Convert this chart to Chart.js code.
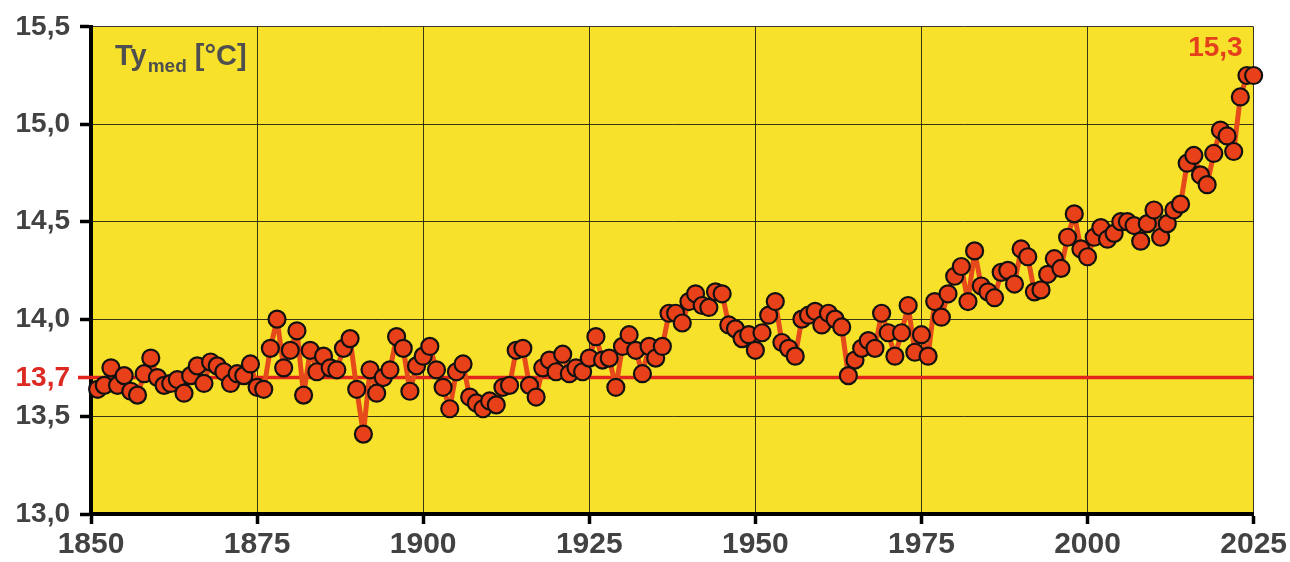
<!DOCTYPE html>
<html>
<head>
<meta charset="utf-8">
<script src="https://cdn.jsdelivr.net/npm/chart.js@4.4.1/dist/chart.umd.min.js"></script>
<style>
  html, body { margin: 0; padding: 0; background: #ffffff; }
  #wrap { width: 1290px; height: 562px; position: relative; }
  canvas { display: block; }
</style>
</head>
<body>
<div id="wrap"><canvas id="c" width="1290" height="562"></canvas></div>
<script>
// ---- Data (annual mean temperature, °C) ----
const firstYear = 1851;
const temps1851_1875 = [13.64, 13.66, 13.75, 13.66, 13.71, 13.63, 13.61, 13.72, 13.80, 13.70,
  13.66, 13.67, 13.69, 13.62, 13.71, 13.76, 13.67, 13.78, 13.76, 13.73, 13.67, 13.72, 13.71, 13.77, 13.65];
const temps1876_1900 = [13.64, 13.85, 14.00, 13.75, 13.84, 13.94, 13.61, 13.84, 13.73, 13.81,
  13.75, 13.74, 13.85, 13.90, 13.64, 13.41, 13.74, 13.62, 13.70, 13.74, 13.91, 13.85, 13.63, 13.76, 13.81];
const temps1901_1925 = [13.86, 13.74, 13.65, 13.54, 13.73, 13.77, 13.60, 13.57, 13.54, 13.58,
  13.56, 13.65, 13.66, 13.84, 13.85, 13.66, 13.60, 13.75, 13.79, 13.73, 13.82, 13.72, 13.75, 13.73, 13.80];
const temps1926_1950 = [13.91, 13.79, 13.80, 13.65, 13.86, 13.92, 13.84, 13.72, 13.86, 13.80,
  13.86, 14.03, 14.03, 13.98, 14.09, 14.13, 14.07, 14.06, 14.14, 14.13, 13.97, 13.95, 13.90, 13.92, 13.84];
const temps1951_1975 = [13.93, 14.02, 14.09, 13.88, 13.85, 13.81, 14.00, 14.02, 14.04, 13.97,
  14.03, 14.00, 13.96, 13.71, 13.79, 13.85, 13.89, 13.85, 14.03, 13.93, 13.81, 13.93, 14.07, 13.83, 13.92];
const temps1976_2000 = [13.81, 14.09, 14.01, 14.13, 14.22, 14.27, 14.09, 14.35, 14.17, 14.14,
  14.11, 14.24, 14.25, 14.18, 14.36, 14.32, 14.14, 14.15, 14.23, 14.31, 14.26, 14.42, 14.54, 14.36, 14.32];
const temps2001_2025 = [14.42, 14.47, 14.41, 14.44, 14.50, 14.50, 14.48, 14.40, 14.49, 14.56,
  14.42, 14.49, 14.56, 14.59, 14.80, 14.84, 14.74, 14.69, 14.85, 14.97, 14.94, 14.86, 15.14, 15.25, 15.25];

const referenceValue = 13.7;
const xTickValues = [1850, 1875, 1900, 1925, 1950, 1975, 2000, 2025];
const yTickValues = [13.0, 13.5, 14.0, 14.5, 15.0, 15.5];
const titleMain = "Ty";
const titleSub = "med";
const titleUnit = " [°C]";

const temps = [].concat(temps1851_1875, temps1876_1900, temps1901_1925, temps1926_1950,
  temps1951_1975, temps1976_2000, temps2001_2025);
const points = temps.map((v, i) => ({ x: firstYear + i, y: v }));

const comma = v => v.toFixed(1).replace('.', ',');
const FONT = "'Liberation Sans', Arial, sans-serif";

const bgPlugin = {
  id: 'bg',
  beforeDraw(chart) {
    const { ctx, chartArea: a } = chart;
    ctx.save();
    ctx.fillStyle = '#f7e12a';
    ctx.fillRect(a.left, a.top, a.right - a.left, a.bottom - a.top);
    ctx.restore();
  },
  beforeDatasetsDraw(chart) {
    const { ctx, chartArea: a, scales } = chart;
    const y = scales.y.getPixelForValue(referenceValue);
    ctx.save();
    ctx.strokeStyle = '#e3241d';
    ctx.lineWidth = 3.5;
    ctx.beginPath();
    ctx.moveTo(a.left - 13, y);
    ctx.lineTo(a.right, y);
    ctx.stroke();
    ctx.fillStyle = '#dc2a22';
    ctx.font = "bold 28px " + FONT;
    ctx.textAlign = 'right';
    ctx.textBaseline = 'middle';
    ctx.fillText(comma(referenceValue), a.left - 21, y + 1);
    ctx.restore();
  },
  afterDatasetsDraw(chart) {
    const { ctx, chartArea: a } = chart;
    ctx.save();
    ctx.fillStyle = '#4f4f4f';
    ctx.textBaseline = 'alphabetic';
    ctx.textAlign = 'left';
    let x = a.left + 24;
    ctx.font = "bold 29px " + FONT;
    ctx.fillText(titleMain, x, 65);
    x += ctx.measureText(titleMain).width + 1;
    ctx.font = "bold 19px " + FONT;
    ctx.fillText(titleSub, x, 72);
    x += ctx.measureText(titleSub).width;
    ctx.font = "bold 29px " + FONT;
    ctx.fillText(titleUnit, x, 65);
    const last = temps[temps.length - 1];
    ctx.fillStyle = '#e4401c';
    ctx.font = "bold 28px " + FONT;
    ctx.textAlign = 'right';
    ctx.fillText(comma(last), a.right - 11, 56);
    ctx.restore();
  }
};

new Chart(document.getElementById('c'), {
  type: 'line',
  data: {
    datasets: [{
      data: points,
      borderColor: '#e64a1b',
      borderWidth: 5,
      borderJoinStyle: 'round',
      borderCapStyle: 'round',
      pointRadius: 8.5,
      pointBackgroundColor: '#e8411a',
      pointBorderColor: '#111111',
      pointBorderWidth: 2.2,
      tension: 0,
      clip: false
    }]
  },
  options: {
    responsive: false,
    devicePixelRatio: 1,
    animation: false,
    events: [],
    layout: { padding: { left: 0, right: 34, top: 24, bottom: 0 } },
    plugins: { legend: { display: false }, tooltip: { enabled: false } },
    scales: {
      x: {
        type: 'linear',
        min: xTickValues[0],
        max: xTickValues[xTickValues.length - 1],
        afterBuildTicks: s => { s.ticks = xTickValues.map(v => ({ value: v })); },
        afterFit: s => { s.height = 48; },
        grid: { color: 'rgba(20,20,20,0.85)', lineWidth: 1, tickLength: 10, tickColor: '#000', tickWidth: 3.5 },
        border: { color: '#000', width: 4 },
        ticks: {
          color: '#424242',
          font: { family: FONT, size: 30, weight: 'bold' },
          padding: 3,
          maxRotation: 0,
          callback: v => String(v)
        }
      },
      y: {
        min: yTickValues[0],
        max: yTickValues[yTickValues.length - 1],
        afterBuildTicks: s => { s.ticks = yTickValues.map(v => ({ value: v })); },
        afterFit: s => { s.width = 91; },
        grid: { color: 'rgba(20,20,20,0.85)', lineWidth: 1, tickLength: 11, tickColor: '#000', tickWidth: 3.5 },
        border: { color: '#000', width: 4 },
        ticks: {
          color: '#424242',
          font: { family: FONT, size: 28, weight: 'bold' },
          padding: 10,
          callback: v => comma(v)
        }
      }
    }
  },
  plugins: [bgPlugin]
});
</script>
</body>
</html>
